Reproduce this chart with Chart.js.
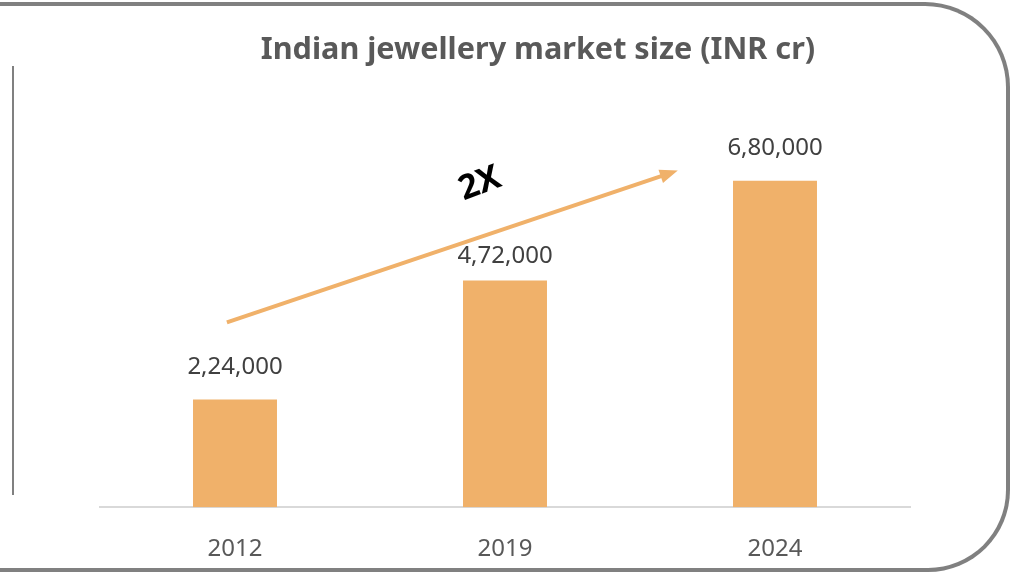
<!DOCTYPE html>
<html>
<head>
<meta charset="utf-8">
<script src="https://cdn.jsdelivr.net/npm/chart.js@4"></script>
<style>
  html, body { margin: 0; padding: 0; background: #fff; }
  #wrap { position: relative; width: 1012px; height: 573px; overflow: hidden; }
  #frame {
    position: absolute; left: -10px; top: 2px; width: 1020px; height: 570px;
    box-sizing: border-box; border: 4px solid #808080; border-left: none;
    border-top-right-radius: 85px; border-bottom-right-radius: 82px;
  }
  #leftline { position: absolute; left: 12px; top: 66px; width: 2px; height: 429px; background: #808080; }
  #chart4 { position: absolute; left: 0; top: 0; }
</style>
</head>
<body>
<div id="wrap">
  <div id="frame"></div>
  <div id="leftline"></div>
  <canvas id="chart4" width="1012" height="573"></canvas>
</div>
<script>
var chart4_title = 'Indian jewellery market size (INR cr)'

var chart4_labels = ['2012', '2019', '2024']

var chart4_values = [224000, 472000, 680000]

var chart4_valueText = ['2,24,000', '4,72,000', '6,80,000']

var chart4_growth = '2X'

// arrow drawn on the scales: [category index, value]
var chart4_arrowFrom = [-0.03, 385000]
var chart4_arrowTo = [1.64, 701000]

var orange = '#f0b16a'

var extras = {
    id: 'extras',
    afterDatasetsDraw: function (chart) {
        var ctx = chart.ctx
        var x = chart.scales.x
        var y = chart.scales.y
        var meta = chart.getDatasetMeta(0)

        var x1 = x.getPixelForValue(chart4_arrowFrom[0]), y1 = y.getPixelForValue(chart4_arrowFrom[1])
        var x2 = x.getPixelForValue(chart4_arrowTo[0]), y2 = y.getPixelForValue(chart4_arrowTo[1])
        var ang = Math.atan2(y2 - y1, x2 - x1)

        ctx.save()
        // value labels, pushed below the arrow where they would cross it
        ctx.font = '24px "Noto Sans"'
        ctx.fillStyle = '#404040'
        ctx.textAlign = 'center'
        ctx.textBaseline = 'middle'
        meta.data.forEach(function (bar, i) {
            var ly = bar.y - 32
            if (bar.x > x1 && bar.x < x2) {
                var ay = y1 + (bar.x - x1) * (y2 - y1) / (x2 - x1)
                ly = Math.max(ly, ay + 27)
            }
            ctx.fillText(chart4_valueText[i], bar.x, ly)
        })

        // title
        ctx.font = 'bold 30.6px "Noto Sans"'
        ctx.fillStyle = '#595959'
        ctx.fillText(chart4_title, 538, 50)

        // arrow
        ctx.strokeStyle = orange
        ctx.fillStyle = orange
        ctx.lineWidth = 4
        ctx.beginPath()
        ctx.moveTo(x1, y1)
        ctx.lineTo(x2 - 12 * Math.cos(ang), y2 - 12 * Math.sin(ang))
        ctx.stroke()
        ctx.beginPath()
        ctx.moveTo(x2, y2)
        ctx.lineTo(x2 - 18 * Math.cos(ang) + 7 * Math.sin(ang), y2 - 18 * Math.sin(ang) - 7 * Math.cos(ang))
        ctx.lineTo(x2 - 18 * Math.cos(ang) - 7 * Math.sin(ang), y2 - 18 * Math.sin(ang) + 7 * Math.cos(ang))
        ctx.closePath()
        ctx.fill()

        // 2X
        ctx.translate(480, 184)
        ctx.rotate(-0.36)
        ctx.font = 'bold 34px "Noto Sans"'
        ctx.fillStyle = '#000'
        ctx.fillText(chart4_growth, 0, 0)
        ctx.restore()
    }
}

var chart4 = new Chart(
    document.getElementById('chart4'),
    {
        type: 'bar',
        data: {
            labels: chart4_labels,
            datasets: [
                {
                    data: chart4_values,
                    backgroundColor: orange,
                    borderWidth: 0,
                    barPercentage: 0.311,
                    categoryPercentage: 1
                }
            ]
        },
        plugins: [extras],
        options: {
            responsive: false,
            animation: false,
            layout: {
                padding: { left: 100, right: 102, top: 123, bottom: -11 }
            },
            plugins: {
                legend: { display: false },
                tooltip: { enabled: false }
            },
            scales: {
                x: {
                    grid: { display: false },
                    border: { display: true, color: '#d9d9d9', width: 2 },
                    ticks: {
                        color: '#595959',
                        font: { family: 'Noto Sans', size: 24 },
                        padding: 20
                    }
                },
                y: {
                    display: false,
                    min: 0,
                    max: 800000
                }
            }
        }
    }
);
</script>
</body>
</html>
